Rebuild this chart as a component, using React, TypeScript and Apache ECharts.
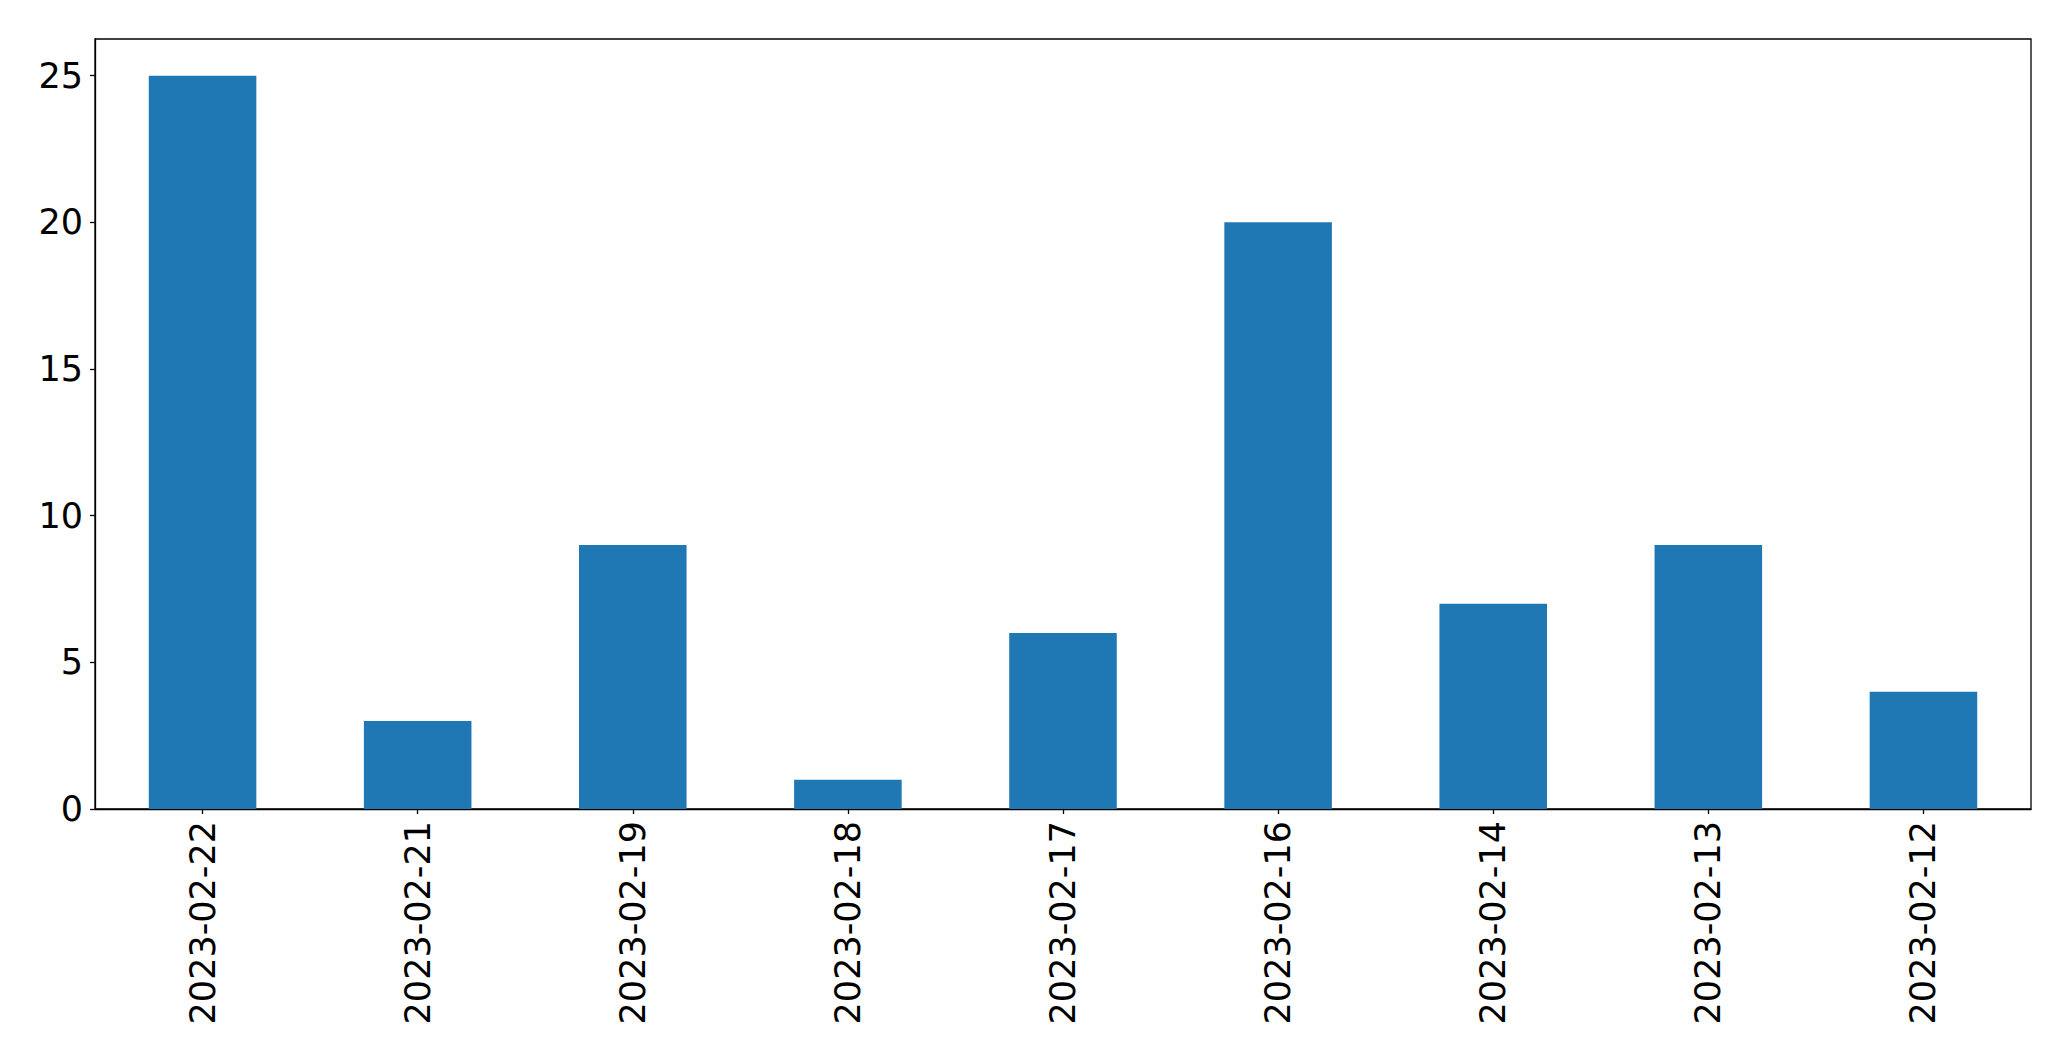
import React, { useEffect, useRef } from "react";
import * as echarts from "echarts";

const categories = [
  "2023-02-22",
  "2023-02-21",
  "2023-02-19",
  "2023-02-18",
  "2023-02-17",
  "2023-02-16",
  "2023-02-14",
  "2023-02-13",
  "2023-02-12",
];
const values = [25, 3, 9, 1, 6, 20, 7, 9, 4];
const yTicks = [0, 5, 10, 15, 20, 25];
const yMax = 26.25;

export default function App() {
  const ref = useRef<HTMLDivElement>(null);
  useEffect(() => {
    if (!ref.current) return;
    const chart = echarts.init(ref.current, undefined, { renderer: "svg" });
    const font = "DejaVu Sans";
    chart.setOption({
      animation: false,
      backgroundColor: "#ffffff",
      grid: {
        left: 95,
        right: 40,
        top: 39,
        bottom: 252,
        show: true,
        borderColor: "#000000",
        borderWidth: 1.3,
        containLabel: false,
      },
      xAxis: {
        type: "category",
        data: categories,
        boundaryGap: true,
        axisLine: { show: true, lineStyle: { color: "#000", width: 1.3 } },
        axisTick: { show: true, alignWithLabel: true, length: 5, lineStyle: { color: "#000", width: 1.3 } },
        axisLabel: {
          rotate: 90,
          interval: 0,
          margin: 12,
          fontSize: 35,
          fontFamily: font,
          color: "#000",
        },
        splitLine: { show: false },
      },
      yAxis: {
        type: "value",
        min: 0,
        max: yMax,
        interval: 5,
        axisLine: { show: true, lineStyle: { color: "#000", width: 1.3 } },
        axisTick: { show: true, length: 5, lineStyle: { color: "#000", width: 1.3 }, customValues: yTicks },
        axisLabel: {
          margin: 12,
          fontSize: 35,
          fontFamily: font,
          color: "#000",
          customValues: yTicks,
        },
        splitLine: { show: false },
      },
      series: [
        {
          type: "bar",
          data: values,
          barWidth: "50%",
          itemStyle: { color: "#1f77b4" },
        },
      ],
    });
    return () => chart.dispose();
  }, []);
  return (
    <div
      ref={ref}
      style={{ position: "fixed", left: 0, top: 0, width: 2071, height: 1061, background: "#fff" }}
    />
  );
}
